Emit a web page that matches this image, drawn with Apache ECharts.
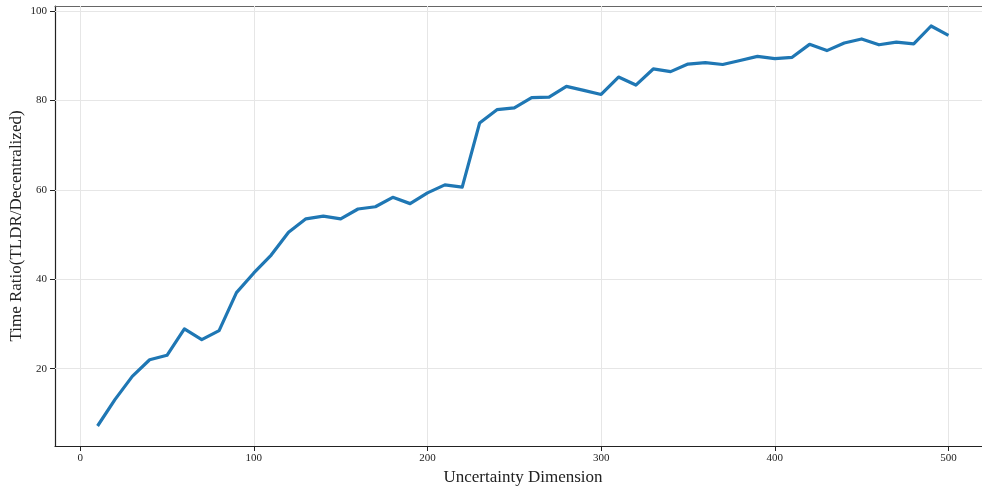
<!DOCTYPE html>
<html>
<head>
<meta charset="utf-8">
<title>Time Ratio vs Uncertainty Dimension</title>
<script src="https://cdn.jsdelivr.net/npm/echarts@6/dist/echarts.min.js"></script>
<style>
  html, body { margin: 0; padding: 0; background: #ffffff; }
  #chart { width: 982px; height: 487px; }
</style>
</head>
<body>
<div id="chart"></div>
<script>
// Uncertainty dimension (x) and measured time ratio TLDR / Decentralized (y)
const dimensions = [
  10, 20, 30, 40, 50, 60, 70, 80, 90, 100,
  110, 120, 130, 140, 150, 160, 170, 180, 190, 200,
  210, 220, 230, 240, 250, 260, 270, 280, 290, 300,
  310, 320, 330, 340, 350, 360, 370, 380, 390, 400,
  410, 420, 430, 440, 450, 460, 470, 480, 490, 500
];
const timeRatio = [
  7.2, 13.1, 18.3, 22.0, 23.0, 28.9, 26.5, 28.5, 37.0, 41.4,
  45.4, 50.5, 53.5, 54.1, 53.5, 55.7, 56.2, 58.3, 56.9, 59.3,
  61.1, 60.6, 74.9, 77.9, 78.3, 80.6, 80.7, 83.1, 82.2, 81.3,
  85.2, 83.4, 87.0, 86.4, 88.1, 88.4, 88.0, 88.9, 89.8, 89.3,
  89.6, 92.5, 91.1, 92.8, 93.7, 92.4, 93.0, 92.6, 96.6, 94.5
];
const xTicks = [0, 100, 200, 300, 400, 500];
const yTicks = [20, 40, 60, 80, 100];

// Axis extents padded by 5% of the data span on each side
function padded(values) {
  const lo = Math.min(...values), hi = Math.max(...values);
  const pad = (hi - lo) * 0.05;
  return [lo - pad, hi + pad];
}
const [xMin, xMax] = padded(dimensions);
const [yMin, yMax] = padded(timeRatio);

const FONT = '"Liberation Serif", "DejaVu Serif", serif';
const TEXT = '#222222';
const GRIDLINE = '#e6e6e6';

const chart = echarts.init(document.getElementById('chart'), null, { renderer: 'canvas' });

chart.setOption({
  animation: false,
  backgroundColor: '#ffffff',
  grid: { left: 55, top: 6, right: -9, bottom: 41, containLabel: false, outerBoundsMode: 'none' },
  xAxis: [
    {
      type: 'value',
      min: xMin,
      max: xMax,
      name: 'Uncertainty Dimension',
      nameLocation: 'middle',
      nameGap: 23,
      nameMoveOverlap: false,
      nameTextStyle: { fontFamily: FONT, fontSize: 17, color: TEXT },
      axisLine: { show: true, onZero: false, lineStyle: { color: '#222222', width: 1.2 } },
      axisTick: { show: true, inside: false, length: 5, customValues: xTicks, lineStyle: { color: '#222222', width: 1 } },
      axisLabel: { customValues: xTicks, fontFamily: FONT, fontSize: 11, color: TEXT, margin: 7 },
      splitLine: { show: false }
    },
    {
      // top frame line
      type: 'value',
      position: 'top',
      min: xMin,
      max: xMax,
      axisLine: { show: true, onZero: false, lineStyle: { color: '#666666', width: 1.2 } },
      axisTick: { show: false },
      axisLabel: { show: false },
      splitLine: { show: false }
    }
  ],
  yAxis: {
    type: 'value',
    min: yMin,
    max: yMax,
    name: 'Time Ratio(TLDR/Decentralized)',
    nameLocation: 'middle',
    nameGap: 30,
    nameMoveOverlap: false,
    nameTextStyle: { fontFamily: FONT, fontSize: 17, color: TEXT },
    axisLine: { show: true, onZero: false, lineStyle: { color: '#222222', width: 1.2 } },
    axisTick: { show: true, inside: false, length: 5, customValues: yTicks, lineStyle: { color: '#222222', width: 1 } },
    axisLabel: { customValues: yTicks, fontFamily: FONT, fontSize: 11, color: TEXT, margin: 8 },
    splitLine: { show: false }
  },
  series: [
    {
      type: 'line',
      data: dimensions.map((d, i) => [d, timeRatio[i]]),
      showSymbol: false,
      symbol: 'none',
      lineStyle: { color: '#1f77b4', width: 3.2, join: 'round' },
      z: 3,
      markLine: {
        silent: true,
        symbol: 'none',
        label: { show: false },
        lineStyle: { color: GRIDLINE, width: 1, type: 'solid' },
        z: 1,
        data: [
          ...xTicks.map(v => ({ xAxis: v })),
          ...yTicks.map(v => ({ yAxis: v }))
        ]
      }
    }
  ]
});
</script>
</body>
</html>
